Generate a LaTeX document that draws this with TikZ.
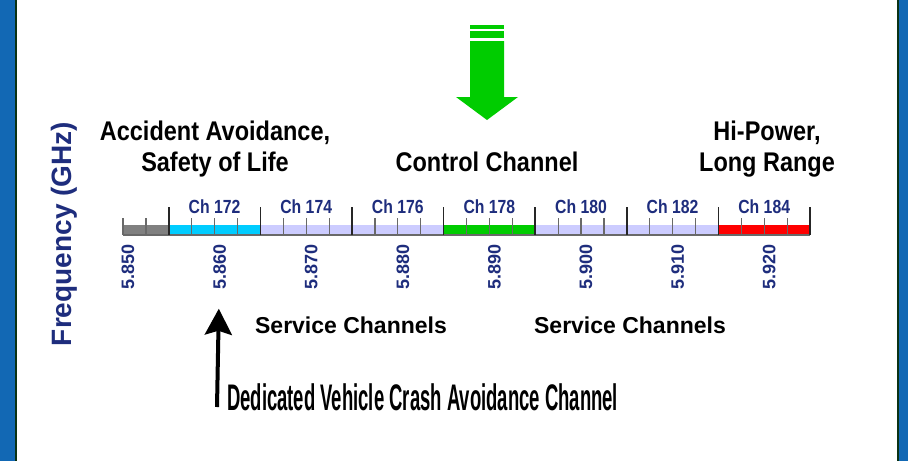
\documentclass[tikz,border=0pt]{standalone}
\usepackage{fontspec}
\setmainfont{Liberation Sans}
\usetikzlibrary{arrows.meta, positioning}
\definecolor{framecolor}{RGB}{18,104,180}
\definecolor{edgecolor}{RGB}{10,50,20}
\definecolor{navytext}{RGB}{30,45,125}
\definecolor{tickgray}{RGB}{105,105,105}
\definecolor{chgray}{RGB}{128,128,128}
\definecolor{chcyan}{RGB}{0,204,255}
\definecolor{chlilac}{RGB}{204,204,255}
\definecolor{chgreen}{RGB}{0,204,0}
\definecolor{chred}{RGB}{255,0,0}

\begin{document}
\begin{tikzpicture}[
    x=1pt, y=-1pt,
    heading/.style={font=\fontsize{27}{31}\selectfont\bfseries, align=center, anchor=north, inner sep=0pt, xscale=0.87},
    service/.style={font=\fontsize{23}{23}\selectfont\bfseries, anchor=base, inner sep=0pt},
    chlabel/.style={font=\fontsize{19}{19}\selectfont\bfseries, text=navytext, inner sep=0pt, xscale=0.83},
    freqlabel/.style={font=\fontsize{18}{18}\selectfont\bfseries, text=navytext, rotate=90, inner sep=2pt},
    minortick/.style={draw=tickgray, line width=1.2pt},
    majortick/.style={draw=black!85, line width=1.6pt},
    crasharrow/.style={-{Stealth[length=26pt, width=27pt, inset=4pt]}, line width=4pt, black}
]
    \useasboundingbox[fill=white] (0,0) rectangle (908,461);

    % Frame
    \fill[framecolor] (0,0) rectangle (15,461);
    \fill[framecolor] (899,0) rectangle (908,461);
    \draw[edgecolor, line width=2pt] (16,0) -- (16,461);
    \draw[edgecolor, line width=2pt] (898,0) -- (898,461);

    % Band
    \foreach \xa/\xb/\col in {123/168.8/chgray, 168.8/260.4/chcyan, 260.4/352/chlilac, 352/443.6/chlilac,
        443.6/535.2/chgreen, 535.2/626.8/chlilac, 626.8/718.4/chlilac, 718.4/810/chred}
        \fill[\col] (\xa,225) rectangle (\xb,235);
    \draw[tickgray, line width=1.2pt] (123,235) -- (810,235);
    \foreach \k in {0,1,3,4,5,7,8,9,11,12,13,15,16,17,19,20,21,23,24,25,27,28,29}
        \draw[minortick] ({123+22.9*\k},218) -- ({123+22.9*\k},235);
    \foreach \k in {2,6,...,30}
        \draw[majortick] ({123+22.9*\k},207) -- ({123+22.9*\k},235);

    % Nodes
    \foreach \ch [count=\i from 0] in {172,174,...,184}
        \node[chlabel] (ch\ch) at ({214.6+91.6*\i},207) {Ch \ch};
    \foreach \f [count=\i from 0] in {850,860,...,920}
        \node[freqlabel] (f\f) at ({128+91.6*\i},267) {5.\f};

    \node[heading] (safety) at (215,121) {Accident Avoidance,\\Safety of Life};
    \node[heading] (control) at (487,152) {Control Channel};
    \node[heading] (hipower) at (767,121) {Hi-Power,\\Long Range};
    \node[service] (service1) at (351,333) {Service Channels};
    \node[service] (service2) at (630,333) {Service Channels};
    \node[font=\fontsize{28}{28}\selectfont\bfseries, text=navytext, rotate=90, inner sep=0pt] (freqaxis) at (64,234) {Frequency (GHz)};
    \node[font=\fontsize{37}{37}\selectfont\bfseries, anchor=base west, inner sep=0pt, xscale=0.5] (crash) at (227,410) {Dedicated Vehicle Crash Avoidance Channel};

    % Arrows
    \fill[chgreen] (470,25) rectangle (504,29);
    \fill[chgreen] (470,31) rectangle (504,38);
    \fill[chgreen] (470,41) -- (504,41) -- (504,97) -- (518,97) -- (487,120) -- (456,97) -- (470,97) -- cycle;
    \coordinate (crashfoot) at (217,407);
    \draw[crasharrow, shorten >=17pt] (crashfoot) -- (f860);
\end{tikzpicture}
\end{document}
